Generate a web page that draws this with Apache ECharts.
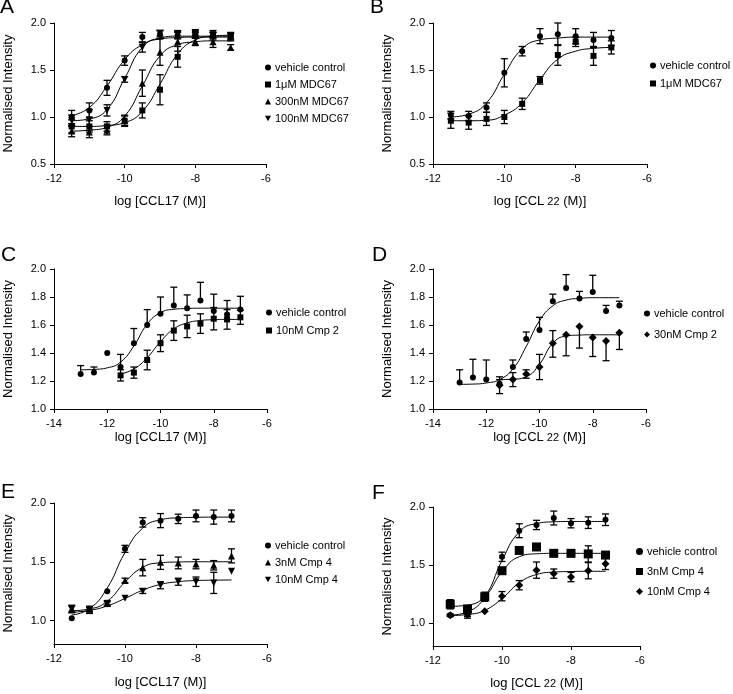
<!DOCTYPE html>
<html><head><meta charset="utf-8">
<script src="https://cdn.jsdelivr.net/npm/echarts@6/dist/echarts.min.js"></script>
<style>html,body{margin:0;padding:0;background:#fff}#c{width:733px;height:694px}</style>
</head><body><div id="c"></div>
<script>
// ---- concentrations (log M) ----
const xs10 = [-11.5,-11,-10.5,-10,-9.5,-9,-8.5,-8,-7.5,-7];
const xs13 = [-13,-12.5,-12,-11.5,-11,-10.5,-10,-9.5,-9,-8.5,-8,-7.5,-7];

// ---- tick labels ----
const xTicksA = [-12,-10,-8,-6];
const xTicksC = [-14,-12,-10,-8,-6];
const yTicksA = [0.5,1.0,1.5,2.0];
const yTicksC = [1.0,1.2,1.4,1.6,1.8,2.0];
const yTicksE = [1.0,1.5,2.0];

// ---- Panel A (CCL17, MDC67) ----
const aVeh     = [1.00,1.07,1.31,1.60,1.85,1.88,1.87,1.87,1.87,1.86];
const aVehErr  = [0.07,0.08,0.08,0.05,0.05,0.04,0.04,0.03,0.03,0.03];
const a1uM     = [0.90,0.90,0.90,0.96,1.07,1.29,1.64,1.89,1.88,1.86];
const a1uMErr  = [0.07,0.06,0.05,0.05,0.08,0.16,0.11,0.04,0.04,0.04];
const a300     = [0.85,0.84,0.86,0.96,1.36,1.69,1.80,1.80,1.80,1.74];
const a300Err  = [0.06,0.06,0.05,0.06,0.14,0.14,0.10,0.04,0.06,0.03];
const a100     = [0.96,0.97,1.07,1.40,1.74,1.89,1.88,1.88,1.86,1.85];
const a100Err  = [0.06,0.11,0.06,0.03,0.05,0.03,0.04,0.04,0.04,0.04];
const aVehFit  = [1.015,1.10,1.33,1.61,1.77,1.83,1.845,1.85,1.85,1.85];
const a100Fit  = [0.96,0.98,1.08,1.41,1.74,1.84,1.86,1.86,1.86,1.86];
const a300Fit  = [0.85,0.86,0.89,1.01,1.33,1.65,1.77,1.80,1.81,1.81];
const a1uMFit  = [0.90,0.90,0.91,0.94,1.06,1.35,1.67,1.82,1.86,1.87];

// ---- Panel B (CCL22, MDC67) ----
const bVeh     = [1.02,1.01,1.10,1.47,1.70,1.86,1.88,1.86,1.82,1.84];
const bVehErr  = [0.04,0.05,0.05,0.15,0.05,0.08,0.12,0.08,0.08,0.08];
const bSq      = [0.96,0.94,0.98,1.00,1.14,1.39,1.66,1.80,1.65,1.74];
const bSqErr   = [0.08,0.07,0.07,0.07,0.06,0.04,0.11,0.05,0.10,0.07];
const bVehFit  = [1.00,1.03,1.15,1.455,1.725,1.82,1.84,1.85,1.85,1.85];
const bSqFit   = [0.96,0.96,0.965,1.02,1.15,1.40,1.615,1.70,1.73,1.74];

// ---- Panel C (CCL17, Cmp 2) ----
const cVeh      = [1.25,1.26,1.40,1.30,1.47,1.60,1.68,1.74,1.72,1.775,1.70,1.675,1.71];
const cVehErrUp = [0.06,0.04,0,0.09,0.105,0.11,0.12,0.13,0.095,0.13,0.12,0.10,0.095];
const cSq       = [1.24,1.26,1.35,1.47,1.56,1.59,1.61,1.645,1.64,1.655];
const cSqErr    = [0.04,0.04,0.07,0.06,0.07,0.08,0.07,0.08,0.07,0.05];
const cVehFit   = [1.28,1.283,1.294,1.335,1.45,1.606,1.688,1.712,1.718,1.72,1.72,1.72,1.72];
const cSqFit    = [1.25,1.286,1.367,1.481,1.572,1.615,1.632,1.638,1.64,1.64];

// ---- Panel D (CCL22, Cmp 2) ----
const dVeh       = [1.19,1.225,1.21,1.18,1.30,1.50,1.565,1.77,1.865,1.79,1.835,1.70,1.74];
const dVehErrUp  = [0.09,0.13,0.14,0.03,0.05,0.05,0.09,0.05,0.095,0.05,0.12,0.04,0.03];
const dDia       = [1.17,1.21,1.25,1.30,1.47,1.53,1.59,1.51,1.485,1.545];
const dDiaErrUp  = [0.06,0.05,0.03,0.09,0.09,0,0,0,0,0];
const dDiaErrDn  = [0.06,0.05,0.03,0.09,0.10,0.15,0.155,0.135,0.14,0.12];
const dVehFit    = [1.176,1.178,1.186,1.21,1.286,1.446,1.63,1.737,1.778,1.79,1.795,1.795,1.795];
const dDiaFit    = [1.21,1.213,1.23,1.32,1.469,1.521,1.528,1.53,1.53,1.53];

// ---- Panel E (CCL17, Cmp 4) ----
const eVeh     = [1.02,1.10,1.25,1.61,1.835,1.85,1.865,1.89,1.88,1.89];
const eVehErr  = [0,0.02,0,0.03,0.04,0.06,0.04,0.05,0.06,0.05];
const eTri     = [1.10,1.095,1.15,1.34,1.45,1.495,1.49,1.48,1.47,1.55];
const eTriErr  = [0.03,0.02,0.02,0.02,0.07,0.06,0.05,0.04,0.04,0.06];
const eInv     = [1.095,1.09,1.14,1.19,1.25,1.30,1.33,1.33,1.32,1.42];
const eInvErr  = [0.03,0.03,0.02,0,0.02,0.03,0.03,0.04,0.09,0];
const eVehFit  = [1.047,1.10,1.277,1.578,1.787,1.857,1.874,1.878,1.88,1.88];
const eTriFit  = [1.083,1.098,1.164,1.326,1.453,1.491,1.498,1.50,1.50,1.50];
const eInvFit  = [1.07,1.086,1.124,1.188,1.258,1.307,1.33,1.34,1.343,1.345];

// ---- Panel F (CCL22, Cmp 4) ----
const fVeh     = [1.065,1.07,1.225,1.57,1.795,1.845,1.905,1.86,1.865,1.89];
const fVehErr  = [0.01,0.03,0.04,0.04,0.06,0.04,0.06,0.04,0.05,0.05];
const fSq      = [1.16,1.12,1.225,1.45,1.625,1.655,1.60,1.60,1.595,1.585];
const fSqErr   = [0.04,0.02,0.03,0,0,0,0.02,0,0.07,0];
const fDia     = [1.065,1.075,1.10,1.23,1.325,1.455,1.425,1.395,1.45,1.51];
const fDiaErr  = [0.01,0.02,0,0.04,0.04,0.07,0.04,0.04,0.07,0.05];
const fVehFit  = [1.066,1.095,1.223,1.537,1.784,1.857,1.872,1.875,1.875,1.875];
const fSqFit   = [1.142,1.153,1.227,1.44,1.571,1.596,1.60,1.60,1.60,1.60];
const fDiaFit  = [1.063,1.072,1.108,1.21,1.345,1.417,1.438,1.443,1.445,1.445];

// ---- legend labels ----
const legA = ['vehicle control','1μM MDC67','300nM MDC67','100nM MDC67'];
const legB = ['vehicle control','1μM MDC67'];
const legC = ['vehicle control','10nM Cmp 2'];
const legD = ['vehicle control','30nM Cmp 2'];
const legE = ['vehicle control','3nM Cmp 4','10nM Cmp 4'];
const legF = ['vehicle control','3nM Cmp 4','10nM Cmp 4'];

const FONT = 'Liberation Sans, Arial, Helvetica, sans-serif';
const INK = '#000';
const INV_TRI = 'path://M0,0 L10,0 L5,9 Z';

const grids = [
  {left:54,  top:23,  width:212, height:141},
  {left:433, top:23,  width:214, height:141},
  {left:54,  top:269, width:213, height:140},
  {left:433, top:269, width:213, height:140},
  {left:54,  top:503, width:213, height:141},
  {left:433, top:507, width:207, height:139}
];

function xAx(g, ticks, name, gap){
  return {gridIndex:g, type:'value', min:ticks[0], max:ticks[ticks.length-1], interval:2,
    name:name, nameLocation:'middle', nameGap:gap,
    nameTextStyle:{fontFamily:FONT, fontSize:13, color:INK,
      rich:{a:{fontFamily:FONT,fontSize:13,color:INK}, b:{fontFamily:FONT,fontSize:11,color:INK}}},
    axisLine:{show:true, onZero:false, lineStyle:{color:INK,width:1}},
    axisTick:{show:true, inside:false, length:4, lineStyle:{color:INK}},
    axisLabel:{fontFamily:FONT, fontSize:11, color:INK, margin:9},
    splitLine:{show:false}};
}
function yAx(g, ticks, custom){
  const o = {gridIndex:g, type:'value', min:custom ? 0.8 : ticks[0], max:ticks[ticks.length-1],
    name:'Normalised Intensity', nameLocation:'middle', nameGap:39, nameRotate:90,
    nameTextStyle:{fontFamily:FONT, fontSize:13, color:INK},
    axisLine:{show:true, onZero:false, lineStyle:{color:INK,width:1}},
    axisTick:{show:true, inside:false, length:4, lineStyle:{color:INK}},
    axisLabel:{fontFamily:FONT, fontSize:11, color:INK, margin:8, formatter:v=>v.toFixed(1)},
    splitLine:{show:false}};
  if (custom){
    o.axisLabel.customValues = ticks;
    o.axisTick.customValues = ticks;
  } else {
    o.interval = +(ticks[1]-ticks[0]).toFixed(2);
  }
  return o;
}

const series = [];
function sc(name, g, xs, ys, symbol, size){
  series.push({type:'scatter', name:name, xAxisIndex:g, yAxisIndex:g,
    data:xs.map((x,i)=>[x,ys[i]]), symbol:symbol, symbolSize:size,
    itemStyle:{color:INK, opacity:1}, z:4, silent:true});
}
function ln(g, xs, ys){
  series.push({type:'line', xAxisIndex:g, yAxisIndex:g, data:xs.map((x,i)=>[x,ys[i]]),
    smooth:0.5, showSymbol:false, symbol:'none',
    lineStyle:{color:INK, width:1}, z:2, silent:true});
}
function eb(g, xs, ys, up, dn){
  series.push({type:'custom', xAxisIndex:g, yAxisIndex:g, silent:true, z:3, clip:false,
    data:xs.map((x,i)=>[x, ys[i]-dn[i], ys[i]+up[i], dn[i]>0?1:0, up[i]>0?1:0]),
    renderItem:(params, api)=>{
      const x=api.value(0), lo=api.value(1), hi=api.value(2);
      const pl=api.coord([x,lo]), ph=api.coord([x,hi]);
      const st={stroke:INK, lineWidth:1.3};
      const ch=[];
      if (hi>lo) ch.push({type:'line', shape:{x1:pl[0],y1:pl[1],x2:ph[0],y2:ph[1]}, style:st});
      const w=3.5;
      if (api.value(3)) ch.push({type:'line', shape:{x1:pl[0]-w,y1:pl[1],x2:pl[0]+w,y2:pl[1]}, style:st});
      if (api.value(4)) ch.push({type:'line', shape:{x1:ph[0]-w,y1:ph[1],x2:ph[0]+w,y2:ph[1]}, style:st});
      return {type:'group', children:ch};
    }});
}
const zero13 = xs13.map(()=>0);

// Panel A
ln(0, xs10, aVehFit); ln(0, xs10, a100Fit); ln(0, xs10, a300Fit); ln(0, xs10, a1uMFit);
eb(0, xs10, aVeh, aVehErr, aVehErr); eb(0, xs10, a1uM, a1uMErr, a1uMErr);
eb(0, xs10, a300, a300Err, a300Err); eb(0, xs10, a100, a100Err, a100Err);
sc(legA[0]+'#A', 0, xs10, aVeh, 'circle', 6);
sc(legA[1]+'#A', 0, xs10, a1uM, 'rect', 6);
sc(legA[2]+'#A', 0, xs10, a300, 'triangle', 7);
sc(legA[3]+'#A', 0, xs10, a100, INV_TRI, 7);
// Panel B
ln(1, xs10, bVehFit); ln(1, xs10, bSqFit);
eb(1, xs10, bVeh, bVehErr, bVehErr); eb(1, xs10, bSq, bSqErr, bSqErr);
sc(legB[0]+'#B', 1, xs10, bVeh, 'circle', 6);
sc(legB[1]+'#B', 1, xs10, bSq, 'rect', 6);
// Panel C
ln(2, xs13, cVehFit); ln(2, xs10, cSqFit);
eb(2, xs13, cVeh, cVehErrUp, zero13); eb(2, xs10, cSq, cSqErr, cSqErr);
sc(legC[0]+'#C', 2, xs13, cVeh, 'circle', 6);
sc(legC[1]+'#C', 2, xs10, cSq, 'rect', 6);
// Panel D
ln(3, xs13, dVehFit); ln(3, xs10, dDiaFit);
eb(3, xs13, dVeh, dVehErrUp, zero13); eb(3, xs10, dDia, dDiaErrUp, dDiaErrDn);
sc(legD[0]+'#D', 3, xs13, dVeh, 'circle', 6);
sc(legD[1]+'#D', 3, xs10, dDia, 'diamond', 8);
// Panel E
ln(4, xs10, eVehFit); ln(4, xs10, eTriFit); ln(4, xs10, eInvFit);
eb(4, xs10, eVeh, eVehErr, eVehErr); eb(4, xs10, eTri, eTriErr, eTriErr); eb(4, xs10, eInv, eInvErr, eInvErr);
sc(legE[0]+'#E', 4, xs10, eVeh, 'circle', 6);
sc(legE[1]+'#E', 4, xs10, eTri, 'triangle', 7);
sc(legE[2]+'#E', 4, xs10, eInv, INV_TRI, 7);
// Panel F
ln(5, xs10, fVehFit); ln(5, xs10, fSqFit); ln(5, xs10, fDiaFit);
eb(5, xs10, fVeh, fVehErr, fVehErr); eb(5, xs10, fSq, fSqErr, fSqErr); eb(5, xs10, fDia, fDiaErr, fDiaErr);
sc(legF[0]+'#F', 5, xs10, fVeh, 'circle', 6);
sc(legF[1]+'#F', 5, xs10, fSq, 'rect', 9);
sc(legF[2]+'#F', 5, xs10, fDia, 'diamond', 8);

function leg(labels, tag, left, top, gap, icon){
  return {data:labels.map(l=>l+'#'+tag), left:left, top:top, orient:'vertical',
    itemGap:gap, itemWidth:icon||6, itemHeight:icon||6, selectedMode:false, padding:0,
    formatter:n=>n.split('#')[0],
    textStyle:{fontFamily:FONT, fontSize:11, color:INK, padding:[0,0,0,-1]}};
}

const letters = [['A',0,-3],['B',370,-3],['C',1,245],['D',372,245],['E',1,482],['F',372,483]];

const option = {
  animation:false,
  backgroundColor:'#fff',
  grid:grids.map(g=>Object.assign({containLabel:false}, g)),
  xAxis:[
    xAx(0, xTicksA, 'log [CCL17 (M)]', 31),
    xAx(1, xTicksA, '{a|log [CCL}{b| 22}{a| (M)]}', 31),
    xAx(2, xTicksC, 'log [CCL17 (M)]', 22),
    xAx(3, xTicksC, '{a|log [CCL}{b| 22}{a| (M)]}', 22),
    xAx(4, xTicksA, 'log [CCL17 (M)]', 32),
    xAx(5, xTicksA, '{a|log [CCL}{b| 22}{a| (M)]}', 31)
  ],
  yAxis:[
    yAx(0, yTicksA), yAx(1, yTicksA), yAx(2, yTicksC), yAx(3, yTicksC),
    yAx(4, yTicksE, true), yAx(5, yTicksE, true)
  ],
  legend:[
    leg(legA,'A',265,62,6),
    leg(legB,'B',650,60,7),
    leg(legC,'C',266,307,7),
    leg(legD,'D',644,308,10),
    leg(legE,'E',265,540,6),
    leg(legF,'F',636,546,9,7)
  ],
  graphic:letters.map(l=>({type:'text', left:l[1], top:l[2],
    style:{text:l[0], font:'21px '+FONT, fill:INK}})),
  series:series
};
const chart = echarts.init(document.getElementById('c'), null, {renderer:'canvas'});
chart.setOption(option);
</script>
</body></html>
